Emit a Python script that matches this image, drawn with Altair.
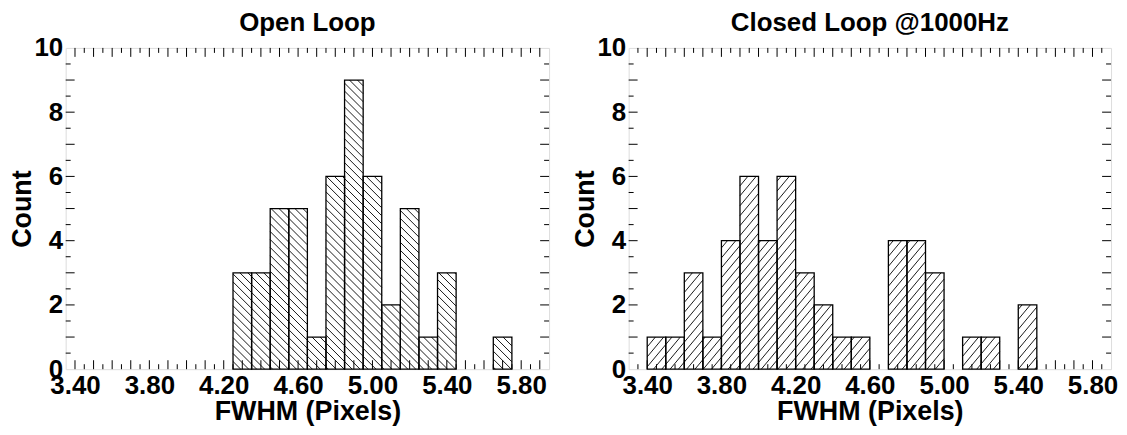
import math
import altair as alt
import pandas as pd

FONT = "Liberation Sans"

# ---------------- data ----------------
BIN_WIDTH = 0.1
open_bin_start = [4.25, 4.35, 4.45, 4.55, 4.65, 4.75, 4.85, 4.95, 5.05, 5.15,
                  5.25, 5.35, 5.45, 5.55, 5.65]
open_counts = [3, 3, 5, 5, 1, 6, 9, 6, 2, 5, 1, 3, 0, 0, 1]

closed_bin_start = [3.40, 3.50, 3.60, 3.70, 3.80, 3.90, 4.00, 4.10, 4.20, 4.30,
                    4.40, 4.50, 4.60, 4.70, 4.80, 4.90, 5.00, 5.10, 5.20, 5.30, 5.40]
closed_counts = [1, 1, 3, 1, 4, 6, 4, 6, 3, 2, 1, 1, 0, 4, 4, 3, 0, 1, 1, 0, 2]

x_tick_labels = [3.40, 3.80, 4.20, 4.60, 5.00, 5.40, 5.80]
y_tick_labels = [0, 2, 4, 6, 8, 10]

titles = ["Open Loop", "Closed Loop @1000Hz"]
x_title = "FWHM (Pixels)"
y_title = "Count"

# ---------------- layout / style ----------------
H = 323
YMAX = 10
MAJ_LEN, MIN_LEN = 9, 5
LABEL_SIZE = 26
AXIS_TITLE_SIZE = 27
TITLE_SIZE = 26


def hatch_segments(starts, counts, x0, x1, W, sign, slope, dc):
    kx = W / (x1 - x0)
    ky = H / YMAX
    segs = []
    for s, c in zip(starts, counts):
        if c <= 0:
            continue
        xa = (s - x0) * kx
        xb = (s + BIN_WIDTH - x0) * kx
        h = c * ky
        cs = [y - sign * slope * x for x in (xa, xb) for y in (0, h)]
        kmin = math.ceil(min(cs) / dc)
        kmax = math.floor(max(cs) / dc)
        for k in range(kmin, kmax + 1):
            C = k * dc
            if sign < 0:
                lo, hi = (C - h) / slope, C / slope
            else:
                lo, hi = -C / slope, (h - C) / slope
            xs, xe = max(xa, lo), min(xb, hi)
            if xe - xs < 0.4:
                continue
            ys = C + sign * slope * xs
            ye = C + sign * slope * xe
            segs.append(dict(hx=x0 + xs / kx, hx2=x0 + xe / kx,
                             hy=ys / ky, hy2=ye / ky))
    return pd.DataFrame(segs)


def panel(title, starts, counts, x0, x1, W, sign, slope, dc):
    xscale = alt.Scale(domain=[x0, x1], nice=False, zero=False)
    yscale = alt.Scale(domain=[0, YMAX], nice=False, zero=True)
    xaxis = alt.Axis(values=x_tick_labels, format=".2f", title=x_title,
                     ticks=False, domain=False, grid=False, labelPadding=3,
                     labelFont=FONT, labelFontSize=LABEL_SIZE, labelFontWeight="bold",
                     labelColor="black", labelFlush=False,
                     titleFont=FONT, titleFontSize=AXIS_TITLE_SIZE, titleFontWeight="bold",
                     titleColor="black", titlePadding=1)
    yaxis = alt.Axis(values=y_tick_labels, format="d", title=y_title,
                     ticks=False, domain=False, grid=False, labelPadding=3,
                     labelFont=FONT, labelFontSize=LABEL_SIZE, labelFontWeight="bold",
                     labelColor="black", labelFlush=False,
                     titleFont=FONT, titleFontSize=AXIS_TITLE_SIZE, titleFontWeight="bold",
                     titleColor="black", titlePadding=-3)

    bars = pd.DataFrame({"x": starts,
                         "x2": [s + BIN_WIDTH for s in starts],
                         "c": counts})
    bars = bars[bars["c"] > 0]
    bars["zero"] = 0

    def X(f):
        return alt.X(f, type="quantitative", scale=xscale, axis=xaxis)

    def Y(f):
        return alt.Y(f, type="quantitative", scale=yscale, axis=yaxis)

    hatch = hatch_segments(starts, counts, x0, x1, W, sign, slope, dc)
    hatch_layer = alt.Chart(hatch).mark_rule(color="black", strokeWidth=0.9).encode(
        x=X("hx"), x2="hx2", y=Y("hy"), y2="hy2")

    bar_layer = alt.Chart(bars).mark_rect(fill="white", fillOpacity=0,
                                          stroke="black", strokeWidth=1.3).encode(
        x=X("x"), x2="x2", y=Y("zero"), y2="c")

    # inward ticks on all four sides
    xt = []
    v = round(math.ceil(x0 / 0.05 - 1e-9) * 0.05, 2)
    while v <= x1 + 1e-9:
        if x0 + 1e-6 < v < x1 - 1e-6:
            major = abs(round(v * 10) - v * 10) < 1e-6
            xt.append(dict(v=v, major=major))
        v = round(v + 0.05, 2)
    xt = pd.DataFrame(xt)
    yt = pd.DataFrame([dict(v=i / 2, major=(i % 2 == 0)) for i in range(1, 20)])

    layers = [hatch_layer, bar_layer]
    for major, ln in ((True, MAJ_LEN), (False, MIN_LEN)):
        xd = xt[xt["major"] == major]
        yd = yt[yt["major"] == major]
        layers.append(alt.Chart(xd).mark_rule(color="black", strokeWidth=1).encode(
            x=X("v"), y=alt.value(H), y2=alt.value(H - ln)))
        layers.append(alt.Chart(xd).mark_rule(color="black", strokeWidth=1).encode(
            x=X("v"), y=alt.value(0), y2=alt.value(ln)))
        layers.append(alt.Chart(yd).mark_rule(color="black", strokeWidth=1).encode(
            y=Y("v"), x=alt.value(0), x2=alt.value(ln)))
        layers.append(alt.Chart(yd).mark_rule(color="black", strokeWidth=1).encode(
            y=Y("v"), x=alt.value(W), x2=alt.value(W - ln)))

    return alt.layer(*layers).properties(
        width=W, height=H,
        title=alt.TitleParams(title, font=FONT, fontSize=TITLE_SIZE, fontWeight="bold",
                              color="black", anchor="middle", frame="group",
                              offset=-1))


left = panel(titles[0], open_bin_start, open_counts, 3.35, 5.95, 486, -1, 1.0, 8.0)
right = panel(titles[1], closed_bin_start, closed_counts, 3.30, 5.90, 485, 1, 1.2, 10.0)

chart = alt.hconcat(left, right, spacing=21).configure_view(
    stroke="black", strokeWidth=3
).configure(background="white", padding=0)

chart.save("out.html", embed_options={"renderer": "svg", "actions": False})
